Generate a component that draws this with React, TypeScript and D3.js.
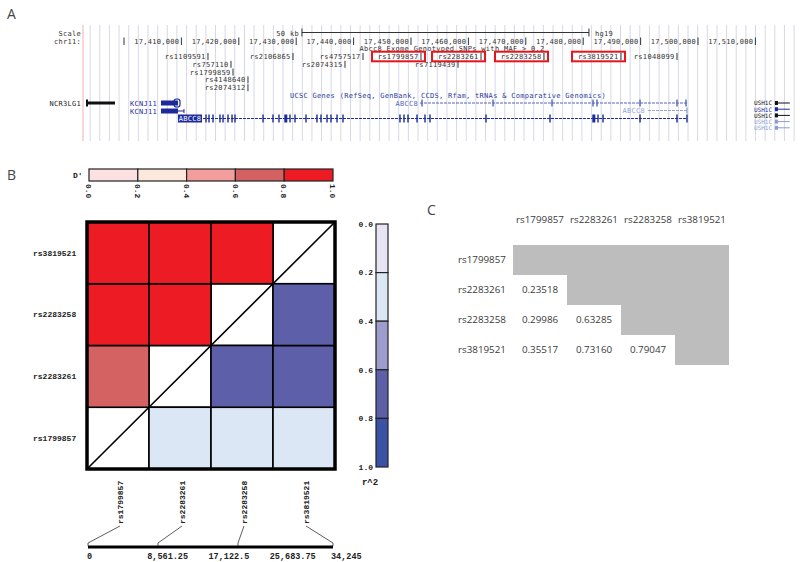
import React from 'react';
import * as d3 from 'd3';

// ---------- Panel A: genome browser data ----------
const CHROM_START = 17400000;
const coordTicks = [17400000, 17410000, 17420000, 17430000, 17440000, 17450000, 17460000, 17470000, 17480000, 17490000, 17500000, 17510000];
const snpNames = ['rs1109591', 'rs2106865', 'rs4757517', 'rs1799857', 'rs2283261', 'rs2283258', 'rs3819521', 'rs1048099', 'rs757110', 'rs2074315', 'rs7119439', 'rs1799859', 'rs4148640', 'rs2074312'];
const snpKb = [14.63, 29.44, 41.64, 51.74, 62.2, 73.17, 86.59, 96.34, 18.64, 38.5, 58.19, 18.99, 21.6, 21.6];
const snpRows = [0, 0, 0, 0, 0, 0, 0, 0, 1, 1, 1, 2, 3, 4];
const boxedSnps = ['rs1799857', 'rs2283261', 'rs2283258', 'rs3819521'];
const scaleBarKb = [31, 81];
const abcc8MainSpan = [13.76, 98.08];
const abcc8MainExons = [14.29, 14.81, 15.51, 16.72, 17.25, 18.12, 18.82, 19.34, 24.22, 25.96, 27.0, 28.05, 28.92, 29.79, 31.71, 33.62, 34.32, 35.37, 36.06, 37.11, 38.15, 48.08, 48.78, 49.48, 51.05, 52.44, 53.31, 63.07, 74.22, 81.71, 82.58, 83.45, 89.9, 96.34, 98.08];
const abcc8AltSpan = [51.57, 98.08];
const abcc8AltExons = [51.92, 64.29, 74.56, 81.71, 82.4, 89.9, 96.34, 97.91];
const abcc8ShortSpan = [91.29, 98.08];
const ncr3lg1Span = [-6.62, -1.57];
const kcnj11Span = [6.45, 9.41, 10.45];
const ush1cColors = ['#111111', '#1c2a9a', '#111111', '#8e9bd6', '#8e9bd6'];
const ush1cSpan = [113.4, 116.0];

// ---------- Panel B: LD plot data ----------
const ldSnps = ['rs1799857', 'rs2283261', 'rs2283258', 'rs3819521'];
const ldPositionsBp = [0, 9784, 20966, 34245];
const pairFirst = [0, 0, 0, 1, 1, 2];
const pairSecond = [1, 2, 3, 2, 3, 3];
const dPrimeValues = [0.74, 0.95, 0.92, 0.97, 0.94, 0.96];
const r2Values = [0.23518, 0.29986, 0.35517, 0.63285, 0.7316, 0.79047];
const legendBreaks = [0, 0.2, 0.4, 0.6, 0.8, 1.0];
const dPrimeColors = ['#fbe1e1', '#fde9dc', '#f39d9d', '#d46262', '#ed1c24'];
const r2Colors = ['#e7e5f3', '#dbe7f5', '#9d9dcd', '#5e5fa9', '#3b53a4'];

const monoA = "'DejaVu Sans Mono', monospace";
const monoB = "'Liberation Mono', 'DejaVu Sans Mono', monospace";
const sansC = "'Open Sans', 'Noto Sans', sans-serif";

export default function App() {
  const gx = d3.scaleLinear().domain([CHROM_START, CHROM_START + 10000]).range([124, 181.4]);
  const kx = (kb: number) => gx(CHROM_START + kb * 1000);
  const fmtComma = d3.format(',');
  const rowY = (r: number) => 56.5 + r * 7.8;
  const gridKb = d3.range(-5.9, 117, 1.68);
  const blue = '#1c2a9a';
  const midBlue = '#5566b8';
  const lightBlue = '#98a4d8';

  // Panel B scales
  const dColor = d3.scaleThreshold<number, string>().domain([0.2, 0.4, 0.6, 0.8]).range(dPrimeColors);
  const rColor = d3.scaleThreshold<number, string>().domain([0.2, 0.4, 0.6, 0.8]).range(r2Colors);
  const hx = d3.scaleBand().domain(ldSnps).range([87, 335]);
  const hy = d3.scaleBand().domain([...ldSnps].reverse()).range([222, 469]);
  const dLeg = d3.scaleLinear().domain([0, 1]).range([89, 333]);
  const rLeg = d3.scaleLinear().domain([0, 1]).range([224, 467]);
  const maxBp = d3.max(ldPositionsBp) as number;
  const px = d3.scaleLinear().domain([0, maxBp]).range([88, 333]);
  const axisTicks = d3.range(5).map((i) => (maxBp * i) / 4);

  // Panel C scales
  const tx = d3.scaleBand().domain(ldSnps).range([513, 729]);
  const ty = d3.scaleBand().domain(ldSnps).range([245, 365]);
  const r2Fmt = d3.format('.5f');

  const cells: JSX.Element[] = [];
  ldSnps.forEach((s) => {
    cells.push(
      <rect key={'diag' + s} x={hx(s)} y={hy(s)} width={hx.bandwidth()} height={hy.bandwidth()} fill="#ffffff" stroke="#000" strokeWidth={1.6} />
    );
  });
  pairFirst.forEach((a, k) => {
    const b = pairSecond[k];
    cells.push(
      <rect key={'d' + k} x={hx(ldSnps[a])} y={hy(ldSnps[b])} width={hx.bandwidth()} height={hy.bandwidth()} fill={dColor(dPrimeValues[k])} stroke="#000" strokeWidth={1.6} />
    );
    cells.push(
      <rect key={'r' + k} x={hx(ldSnps[b])} y={hy(ldSnps[a])} width={hx.bandwidth()} height={hy.bandwidth()} fill={rColor(r2Values[k])} stroke="#000" strokeWidth={1.6} />
    );
  });

  return (
    <svg width={800} height={562} style={{ position: 'absolute', left: 0, top: 0, background: '#fff' }}>
      <rect x={0} y={0} width={800} height={562} fill="#fff" />

      {/* ===== Panel A ===== */}
      <text x={7} y={19} fontFamily={sansC} fontSize={14} fill="#444">A</text>
      {gridKb.map((kb, i) => (
        <line key={'g' + i} x1={kx(kb)} x2={kx(kb)} y1={25} y2={141} stroke="#d6d8e6" strokeWidth={1} />
      ))}
      <line x1={kx(-7.14)} x2={kx(-7.14)} y1={25} y2={141} stroke="#f0b0b0" strokeWidth={1} />

      <g fontFamily={monoA} fontSize={7} letterSpacing={0.3} fill="#333">
        <text x={81} y={35.5} textAnchor="end">Scale</text>
        <text x={81} y={43.5} textAnchor="end">chr11:</text>
        <text x={kx(scaleBarKb[0]) - 3} y={35.5} textAnchor="end">50 kb</text>
        <line x1={kx(scaleBarKb[0])} x2={kx(scaleBarKb[1])} y1={32.5} y2={32.5} stroke="#333" strokeWidth={1} />
        <line x1={kx(scaleBarKb[0])} x2={kx(scaleBarKb[0])} y1={28.5} y2={36.5} stroke="#333" strokeWidth={1} />
        <line x1={kx(scaleBarKb[1])} x2={kx(scaleBarKb[1])} y1={28.5} y2={36.5} stroke="#333" strokeWidth={1} />
        <text x={kx(scaleBarKb[1]) + 6} y={35.5}>hg19</text>
        {coordTicks.map((t, i) => (
          <g key={'ct' + i}>
            <line x1={gx(t)} x2={gx(t)} y1={37.5} y2={45} stroke="#333" strokeWidth={1} />
            {i > 0 && <text x={gx(t) - 2} y={43.5} textAnchor="end">{fmtComma(t)}</text>}
          </g>
        ))}
        <text x={452} y={50.8} textAnchor="middle">Abcc8 Exome Genotyped SNPs with MAF &gt; 0.2</text>
        {snpNames.map((n, i) => {
          const x = kx(snpKb[i]);
          const y = rowY(snpRows[i]);
          const boxed = boxedSnps.includes(n);
          return (
            <g key={'snp' + n}>
              <text x={x - 2.5} y={y + 2.4} textAnchor="end">{n}</text>
              <line x1={x} x2={x} y1={y - 3.5} y2={y + 3.5} stroke="#333" strokeWidth={1} />
              {boxed && (
                <rect x={x - 49} y={y - 4.8} width={53} height={9.6} fill="none" stroke="#e8141c" strokeWidth={2} />
              )}
            </g>
          );
        })}
      </g>

      <g fontFamily={monoA} fontSize={7} letterSpacing={0.3}>
        <text x={448} y={97.5} textAnchor="middle" fill="#2a3a9e">UCSC Genes (RefSeq, GenBank, CCDS, Rfam, tRNAs &amp; Comparative Genomics)</text>
        {/* NCR3LG1 */}
        <text x={81} y={105.5} textAnchor="end" fill="#222">NCR3LG1</text>
        <rect x={kx(ncr3lg1Span[0])} y={101.5} width={kx(ncr3lg1Span[1]) - kx(ncr3lg1Span[0])} height={3} fill="#111" />
        <rect x={kx(ncr3lg1Span[0])} y={99.5} width={2} height={7} fill="#111" />
        {/* KCNJ11 */}
        <text x={130} y={105.5} fill={blue}>KCNJ11</text>
        <rect x={kx(kcnj11Span[0])} y={100.5} width={kx(kcnj11Span[1]) - kx(kcnj11Span[0])} height={5} fill={blue} />
        <rect x={kx(kcnj11Span[1]) - 4} y={99} width={6} height={8} rx={2.5} fill="none" stroke={blue} strokeWidth={1.2} />
        <text x={130} y={113.5} fill={blue}>KCNJ11</text>
        <rect x={kx(kcnj11Span[0])} y={108.5} width={kx(kcnj11Span[1]) - kx(kcnj11Span[0])} height={5} fill={blue} />
        <line x1={kx(kcnj11Span[1])} x2={kx(kcnj11Span[2])} y1={111} y2={111} stroke={blue} strokeWidth={1} />
        <line x1={kx(kcnj11Span[2])} x2={kx(kcnj11Span[2])} y1={109} y2={113} stroke={blue} strokeWidth={1} />
        {/* ABCC8 main (boxed label) */}
        <rect x={kx(abcc8MainSpan[0]) - 25} y={114.5} width={24} height={8} fill={blue} />
        <text x={kx(abcc8MainSpan[0]) - 13} y={121} textAnchor="middle" fill="#fff">ABCC8</text>
        <line x1={kx(abcc8MainSpan[0])} x2={kx(abcc8MainSpan[1])} y1={118.5} y2={118.5} stroke={blue} strokeWidth={1} strokeDasharray="3 1" />
        {abcc8MainExons.map((e, i) => (
          <rect key={'ex' + i} x={kx(e) - 0.7} y={114.5} width={i === 11 || i === 29 ? 3 : 1.4} height={8} fill={blue} />
        ))}
        {/* ABCC8 alt */}
        <text x={kx(abcc8AltSpan[0]) - 2} y={105.5} textAnchor="end" fill={midBlue}>ABCC8</text>
        <line x1={kx(abcc8AltSpan[0])} x2={kx(abcc8AltSpan[1])} y1={103} y2={103} stroke={midBlue} strokeWidth={1} strokeDasharray="3 1" />
        {abcc8AltExons.map((e, i) => (
          <rect key={'ax' + i} x={kx(e) - 0.7} y={99.5} width={1.4} height={7} fill={midBlue} />
        ))}
        {/* ABCC8 short */}
        <text x={kx(abcc8ShortSpan[0]) - 3} y={113} textAnchor="end" fill={lightBlue}>ABCC8</text>
        <line x1={kx(abcc8ShortSpan[0])} x2={kx(abcc8ShortSpan[1])} y1={110.5} y2={110.5} stroke={lightBlue} strokeWidth={1} strokeDasharray="3 1" />
        <rect x={kx(abcc8ShortSpan[1]) - 0.7} y={107.5} width={1.4} height={6} fill={lightBlue} />
        {/* USH1C */}
        {ush1cColors.map((c, i) => {
          const y = 103 + i * 6.2;
          return (
            <g key={'ush' + i}>
              <text x={772} y={y + 2.3} textAnchor="end" fontSize={6} letterSpacing={0} fill={c}>USH1C</text>
              <rect x={kx(ush1cSpan[0])} y={y - 2} width={3} height={4} fill={c} />
              <line x1={kx(ush1cSpan[0])} x2={kx(ush1cSpan[1])} y1={y} y2={y} stroke={c} strokeWidth={1} />
            </g>
          );
        })}
      </g>

      {/* ===== Panel B ===== */}
      <text x={7} y={180} fontFamily={sansC} fontSize={14} fill="#444">B</text>
      <g fontFamily={monoB} fontSize={8} fontWeight="bold" fill="#222">
        <text x={73} y={178}>D'</text>
        {dPrimeColors.map((c, i) => (
          <rect key={'dl' + i} x={dLeg(legendBreaks[i])} y={169} width={dLeg(legendBreaks[i + 1]) - dLeg(legendBreaks[i])} height={12} fill={c} stroke="#222" strokeWidth={1.2} />
        ))}
        {legendBreaks.map((b, i) => (
          <text key={'dlt' + i} transform={`translate(${dLeg(b)},184) rotate(90)`} dy="0.35em">{b.toFixed(1)}</text>
        ))}

        {cells}
        <line x1={87} y1={469} x2={335} y2={222} stroke="#000" strokeWidth={1.6} />
        <rect x={87} y={222} width={248} height={247} fill="none" stroke="#000" strokeWidth={3.5} />

        {ldSnps.map((s) => (
          <text key={'rl' + s} x={33} y={(hy(s) as number) + hy.bandwidth() / 2} dy="0.35em">{s}</text>
        ))}

        {/* r^2 legend */}
        {r2Colors.map((c, i) => (
          <rect key={'rl' + i} x={376} y={rLeg(legendBreaks[i])} width={12} height={rLeg(legendBreaks[i + 1]) - rLeg(legendBreaks[i])} fill={c} stroke="#222" strokeWidth={1.2} />
        ))}
        {legendBreaks.map((b, i) => (
          <text key={'rlt' + i} x={373} y={rLeg(b)} dy="0.35em" textAnchor="end">{b.toFixed(1)}</text>
        ))}
        <text x={370} y={485} textAnchor="middle" fontSize={9}>r^2</text>

        {/* column labels and physical map */}
        {ldSnps.map((s, i) => {
          const lx = (hx(s) as number) + hx.bandwidth() / 2 + 2;
          const ax = px(ldPositionsBp[i]);
          return (
            <g key={'cl' + s}>
              <text transform={`translate(${lx},524) rotate(-90)`} dy="0.35em">{s}</text>
              <polyline points={`${lx},526 ${ax},543 ${ax},546`} fill="none" stroke="#333" strokeWidth={0.8} />
            </g>
          );
        })}
        <line x1={px(0)} x2={px(maxBp)} y1={547} y2={547} stroke="#000" strokeWidth={3} />
        {axisTicks.map((t, i) => (
          <text key={'at' + i} x={px(t) - (i === 0 ? 1 : 2)} y={559} fontSize={8.5}>{fmtComma(t)}</text>
        ))}
      </g>

      {/* ===== Panel C ===== */}
      <text x={427} y={215} fontFamily={sansC} fontSize={14} fill="#444">C</text>
      <g fontFamily={sansC} fontSize={9.8} fill="#3a3a3a">
        {ldSnps.map((s) => (
          <rect key={'gr' + s} x={tx(s)} y={ty(s)} width={729 - (tx(s) as number)} height={ty.bandwidth()} fill="#bdbdbd" />
        ))}
        {ldSnps.map((s) => (
          <text key={'ch' + s} x={(tx(s) as number) + tx.bandwidth() / 2} y={223} textAnchor="middle">{s}</text>
        ))}
        {ldSnps.map((s) => (
          <text key={'rh' + s} x={458} y={(ty(s) as number) + ty.bandwidth() / 2} dy="0.35em">{s}</text>
        ))}
        {pairFirst.map((a, k) => {
          const b = pairSecond[k];
          return (
            <text key={'tv' + k} x={(tx(ldSnps[a]) as number) + tx.bandwidth() / 2} y={(ty(ldSnps[b]) as number) + ty.bandwidth() / 2} dy="0.35em" textAnchor="middle">
              {r2Fmt(r2Values[k])}
            </text>
          );
        })}
      </g>
    </svg>
  );
}
